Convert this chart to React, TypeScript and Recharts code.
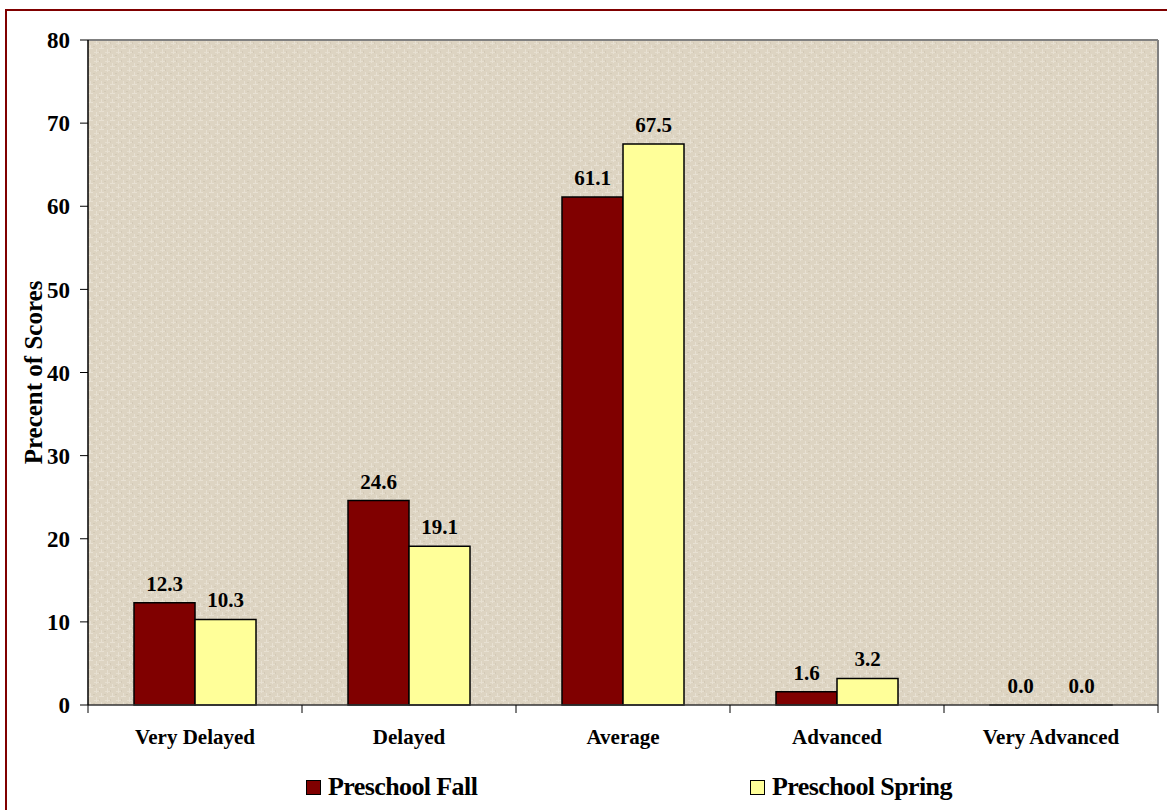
import React from 'react';
import { Bar, BarChart, CartesianGrid, LabelList, XAxis, YAxis } from 'recharts';

const categories = ['Very Delayed', 'Delayed', 'Average', 'Advanced', 'Very Advanced'];
const fallValues = [12.3, 24.6, 61.1, 1.6, 0.0];
const springValues = [10.3, 19.1, 67.5, 3.2, 0.0];
const yTicks = [0, 10, 20, 30, 40, 50, 60, 70, 80];
const seriesNames = ['Preschool Fall', 'Preschool Spring'];

const data = categories.map((c, i) => ({ name: c, fall: fallValues[i], spring: springValues[i] }));

const FONT = '"Liberation Serif", "Times New Roman", serif';

// zero-valued bars get a hairline so their label still gets drawn
const zeroSliver = (v: any) => (Number(v) === 0 ? 0.01 : 0);

const CategoryTick = (props: any) => {
    const { x, y, payload, index } = props;
    const half = payload && payload.offset ? payload.offset : 107;
    return (
        <g>
            <line x1={x - half} y1={y - 8} x2={x - half} y2={y} stroke="#000" strokeWidth={1} />
            {index === categories.length - 1 && (
                <line x1={x + half} y1={y - 8} x2={x + half} y2={y} stroke="#000" strokeWidth={1} />
            )}
            <text x={x} y={y + 31} textAnchor="middle" fontFamily={FONT} fontWeight="bold" fontSize={21} fill="#000">
                {payload.value}
            </text>
        </g>
    );
};

const ValueLabel = (props: any) => {
    const { x, y, width, value } = props;
    if (value === undefined || value === null) return null;
    return (
        <text x={x + width / 2} y={y - 12} textAnchor="middle" fontFamily={FONT} fontWeight="bold" fontSize={21} fill="#000">
            {Number(value).toFixed(1)}
        </text>
    );
};

export default function App() {
    return (
        <div style={{ position: 'absolute', left: 0, top: 0, width: 1167, height: 810, overflow: 'hidden', background: '#fff', fontFamily: FONT }}>
            <svg width={0} height={0} style={{ position: 'absolute' }}>
                <defs>
                    <pattern id="burlap" width="11" height="9" patternUnits="userSpaceOnUse">
                        <rect width="11" height="9" fill="#DDD4C2" />
                        <rect x="0" y="3" width="5" height="1" fill="#E8E1D3" />
                        <rect x="6" y="7" width="5" height="1" fill="#E6DFD0" />
                        <rect x="2" y="0" width="1" height="4" fill="#E7E0D2" />
                        <rect x="8" y="4" width="1" height="5" fill="#E7E0D2" />
                        <rect x="5" y="1" width="2" height="1" fill="#D2C9B6" />
                        <rect x="0" y="6" width="1" height="2" fill="#D3C9B7" />
                    </pattern>
                </defs>
            </svg>
            <div style={{ position: 'absolute', left: 5, top: 9, width: 1200, height: 900, border: '2px solid #800000' }} />
            <div style={{ position: 'absolute', left: 0, top: 0 }}>
                <BarChart
                    width={1167}
                    height={810}
                    data={data}
                    margin={{ top: 40, right: 9, left: 0, bottom: 45 }}
                    barCategoryGap="21.5%"
                    barGap={0}
                >
                    <CartesianGrid
                        fill="url(#burlap)"
                        stroke="#808080"
                        strokeWidth={2}
                        horizontalCoordinatesGenerator={({ offset }: any) => [offset.top]}
                        verticalCoordinatesGenerator={({ offset }: any) => [offset.left + offset.width]}
                    />
                    <XAxis
                        dataKey="name"
                        height={60}
                        axisLine={{ stroke: '#333', strokeWidth: 1.5 }}
                        tickLine={false}
                        interval={0}
                        tick={<CategoryTick />}
                    />
                    <YAxis
                        width={88}
                        domain={[0, 80]}
                        ticks={yTicks}
                        axisLine={{ stroke: '#000', strokeWidth: 1.5 }}
                        tickLine={{ stroke: '#000' }}
                        tickSize={8}
                        tickMargin={10}
                        tick={{ fill: '#000', fontFamily: FONT, fontWeight: 'bold', fontSize: 23 }}
                        label={{
                            value: 'Precent of Scores',
                            angle: -90,
                            position: 'insideLeft',
                            offset: 33,
                            style: { textAnchor: 'middle', fontFamily: FONT, fontWeight: 'bold', fontSize: 25, fill: '#000' },
                        }}
                    />
                    <Bar dataKey="fall" name={seriesNames[0]} fill="#800000" stroke="#000" strokeWidth={1.5} minPointSize={zeroSliver} isAnimationActive={false}>
                        <LabelList dataKey="fall" content={<ValueLabel />} />
                    </Bar>
                    <Bar dataKey="spring" name={seriesNames[1]} fill="#FFFF99" stroke="#000" strokeWidth={1.5} minPointSize={zeroSliver} isAnimationActive={false}>
                        <LabelList dataKey="spring" content={<ValueLabel />} />
                    </Bar>
                </BarChart>
            </div>
            <div style={{ position: 'absolute', top: 772, left: 306, display: 'flex', alignItems: 'center', fontSize: 26, fontWeight: 'bold', color: '#000' }}>
                <span style={{ display: 'inline-block', width: 13, height: 13, background: '#800000', border: '1px solid #000', marginRight: 7 }} />
                <span style={{ letterSpacing: '-0.6px' }}>{seriesNames[0]}</span>
            </div>
            <div style={{ position: 'absolute', top: 772, left: 750, display: 'flex', alignItems: 'center', fontSize: 26, fontWeight: 'bold', color: '#000' }}>
                <span style={{ display: 'inline-block', width: 13, height: 13, background: '#FFFF99', border: '1px solid #000', marginRight: 7 }} />
                <span style={{ letterSpacing: '-0.6px' }}>{seriesNames[1]}</span>
            </div>
        </div>
    );
}
